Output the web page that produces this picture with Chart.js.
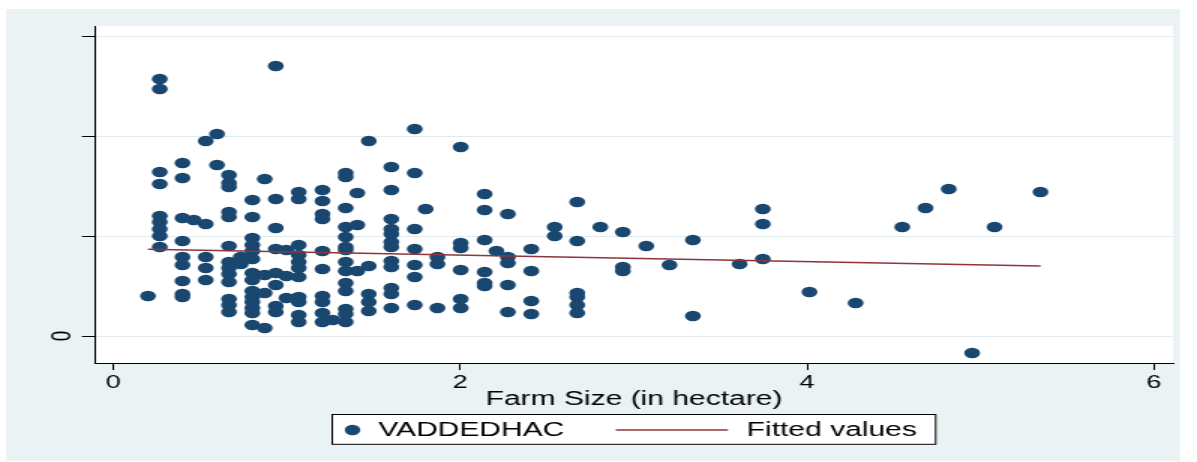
<!DOCTYPE html>
<html><head><meta charset="utf-8">
<script src="https://cdn.jsdelivr.net/npm/chart.js@4.4.1/dist/chart.umd.min.js"></script>
<style>
html,body{margin:0;padding:0;background:#fff;overflow:hidden}
canvas{display:block}
</style>
</head><body>
<canvas id="c" width="798" height="462" style="width:1197px;height:462px"></canvas>
<script>
// ---- data ----
const farmSize = [
  0.200,
  0.268,0.268,0.268,0.268,0.268,0.268,0.268,0.268,0.268,
  0.399,0.399,0.399,0.399,0.399,0.399,0.399,0.399,0.399,
  0.464,
  0.533,0.533,0.533,0.533,0.533,
  0.598,0.598,
  0.667,0.667,0.667,0.667,0.667,0.667,0.667,0.667,0.667,0.667,0.667,0.667,0.667,
  0.735,0.735,
  0.802,0.802,0.802,0.802,0.802,0.802,0.802,0.802,0.802,0.802,0.802,0.802,0.802,0.802,
  0.873,0.873,0.873,0.873,
  0.937,0.937,0.937,0.937,0.937,0.937,0.937,0.937,
  0.998,0.998,0.998,
  1.069,1.069,1.069,1.069,1.069,1.069,1.069,1.069,1.069,1.069,1.069,
  1.206,1.206,1.206,1.206,1.206,1.206,1.206,1.206,1.206,1.206,
  1.265,
  1.340,1.340,1.340,1.340,1.340,1.340,1.340,1.340,1.340,1.340,1.340,1.340,1.340,1.340,
  1.407,1.407,1.407,
  1.473,1.473,1.473,1.473,1.473,
  1.603,1.603,1.603,1.603,1.603,1.603,1.603,1.603,1.603,1.603,1.603,1.603,
  1.738,1.738,1.738,1.738,1.738,1.738,1.738,
  1.801,
  1.869,1.869,1.869,
  2.003,2.003,2.003,2.003,2.003,2.003,
  2.141,2.141,2.141,2.141,2.141,2.141,
  2.209,
  2.275,2.275,2.275,2.275,2.275,
  2.410,2.410,2.410,2.410,
  2.545,2.545,
  2.675,2.675,2.675,2.675,2.675,2.675,
  2.808,
  2.938,2.938,2.938,
  3.073,
  3.207,
  3.342,3.342,
  3.611,
  3.745,3.745,3.745,
  4.014,
  4.280,
  4.549,
  4.683,
  4.817,
  4.952,
  5.081,
  5.346
];
const vaddedhac = [
  0.40,
  2.57,2.47,1.64,1.52,1.20,1.14,1.07,1.00,0.89,
  1.73,1.58,1.18,0.95,0.79,0.71,0.55,0.42,0.39,
  1.16,
  1.95,1.12,0.79,0.68,0.56,
  2.02,1.71,
  1.61,1.53,1.49,1.24,1.19,0.90,0.74,0.68,0.62,0.54,0.37,0.31,0.24,
  0.79,0.72,
  1.36,1.19,0.98,0.91,0.85,0.77,0.63,0.56,0.45,0.39,0.34,0.28,0.23,0.11,
  1.57,0.61,0.43,0.08,
  2.70,1.37,1.08,0.87,0.63,0.51,0.30,0.24,
  0.86,0.60,0.38,
  1.44,1.37,0.91,0.81,0.74,0.68,0.59,0.39,0.34,0.21,0.14,
  1.46,1.35,1.22,1.17,0.85,0.67,0.40,0.34,0.23,0.14,
  0.16,
  1.63,1.59,1.28,1.09,0.99,0.89,0.86,0.74,0.65,0.53,0.45,0.27,0.22,0.14,
  1.43,1.11,0.65,
  1.95,0.70,0.42,0.34,0.25,
  1.69,1.46,1.17,1.07,1.02,0.94,0.89,0.75,0.69,0.48,0.42,0.28,
  2.07,1.63,1.07,0.87,0.71,0.59,0.31,
  1.27,
  0.79,0.72,0.28,
  1.89,0.93,0.88,0.66,0.37,0.28,
  1.42,1.26,0.96,0.64,0.53,0.50,
  0.85,
  1.22,0.79,0.73,0.51,0.24,
  0.87,0.65,0.35,0.22,
  1.09,1.00,
  1.34,0.95,0.43,0.39,0.31,0.23,
  1.09,
  1.04,0.69,0.65,
  0.90,
  0.71,
  0.96,0.20,
  0.72,
  1.27,1.12,0.77,
  0.44,
  0.33,
  1.09,
  1.28,
  1.47,
  -0.17,
  1.09,
  1.44
];
const fittedX = [0.200, 5.346];
const fittedY = [0.867, 0.700];
const xTicks = [0, 2, 4, 6];
const yTicks = [0, 1, 2, 3];
const yTickLabels = ['0', '', '', ''];
const seriesLabels = ['VADDEDHAC', 'Fitted values'];
const xTitle = 'Farm Size (in hectare)';

// ---- styling ----
const NAVY = '#1A476F', MAROON = '#90353B', PANEL = '#EAF2F3', GRID = '#E1EAED';
const FONT = '"Liberation Sans", Arial, Helvetica, sans-serif';

const bgPlugin = {
  id: 'stataBg',
  beforeDraw(chart) {
    const c = chart.ctx, a = chart.chartArea;
    c.save();
    c.fillStyle = '#fff';
    c.fillRect(0, 0, chart.width, chart.height);
    c.fillStyle = PANEL;
    c.fillRect(4, 9, 782.7, 452);
    c.fillStyle = '#fff';
    c.fillRect(a.left, a.top, a.right - a.left, a.bottom - a.top);
    c.restore();
  }
};

const legendPlugin = {
  id: 'stataLegend',
  afterDraw(chart) {
    const c = chart.ctx;
    const ds = chart.data.datasets;
    const sc = ds.find(d => d.type !== 'line');
    const ln = ds.find(d => d.type === 'line');
    c.save();
    c.fillStyle = '#fff';
    c.fillRect(221.1, 414.3, 402.9, 30);
    c.strokeStyle = '#000';
    c.lineWidth = 1;
    c.strokeRect(221.5, 414.5, 402.3, 29.8);
    const cy = 430;
    c.fillStyle = sc.backgroundColor;
    c.beginPath(); c.arc(235, cy, 5.2, 0, Math.PI * 2); c.fill();
    c.fillStyle = '#000';
    c.font = '20px ' + FONT;
    c.textBaseline = 'middle';
    c.textAlign = 'left';
    c.fillText(sc.label, 252.2, cy);
    c.strokeStyle = ln.borderColor;
    c.lineWidth = 1.6;
    c.beginPath(); c.moveTo(410.5, cy); c.lineTo(485.3, cy); c.stroke();
    c.fillText(ln.label, 497.8, cy);
    c.restore();
  }
};

new Chart(document.getElementById('c'), {
  type: 'scatter',
  data: {
    datasets: [
      {
        label: seriesLabels[0],
        data: farmSize.map((x, i) => ({ x: x, y: vaddedhac[i] })),
        backgroundColor: NAVY,
        borderColor: NAVY,
        borderWidth: 0,
        pointRadius: 5.3,
        pointHoverRadius: 5.3,
        order: 1
      },
      {
        type: 'line',
        label: seriesLabels[1],
        data: fittedX.map((x, i) => ({ x: x, y: fittedY[i] })),
        borderColor: MAROON,
        backgroundColor: MAROON,
        borderWidth: 1.6,
        pointRadius: 0,
        fill: false,
        tension: 0,
        order: 0
      }
    ]
  },
  options: {
    responsive: false,
    animation: false,
    devicePixelRatio: 1,
    events: [],
    layout: { padding: { left: 0, right: 16, top: 26, bottom: 0 } },
    plugins: { legend: { display: false }, tooltip: { enabled: false } },
    scales: {
      x: {
        type: 'linear',
        min: -0.1055,
        max: 6.11,
        afterBuildTicks: s => { s.ticks = xTicks.map(v => ({ value: v })); },
        afterFit: s => { s.height = 99; },
        grid: { drawOnChartArea: false, drawTicks: true, tickLength: 7, tickColor: '#000', tickWidth: 1 },
        border: { display: true, color: '#000', width: 1 },
        ticks: { color: '#000', font: { family: FONT, size: 18 }, padding: 2, maxRotation: 0, minRotation: 0,
                 callback: v => String(v) },
        title: { display: true, text: xTitle, color: '#000', font: { family: FONT, size: 20 },
                 padding: { top: 0, bottom: 51 } }
      },
      y: {
        type: 'linear',
        min: -0.27,
        max: 3.10,
        afterBuildTicks: s => { s.ticks = yTicks.map(v => ({ value: v })); },
        afterFit: s => { s.width = 63.33; },
        grid: { color: GRID, lineWidth: 1, drawTicks: true, tickLength: 8.67, tickColor: '#000', tickWidth: 1 },
        border: { display: true, color: '#000', width: 1 },
        ticks: { color: '#000', font: { family: FONT, size: 19 }, padding: 7.5,
                 minRotation: 90, maxRotation: 90, crossAlign: 'center',
                 callback: v => { const i = yTicks.indexOf(v); return i >= 0 ? yTickLabels[i] : ''; } }
      }
    }
  },
  plugins: [bgPlugin, legendPlugin]
});
</script>
</body></html>
